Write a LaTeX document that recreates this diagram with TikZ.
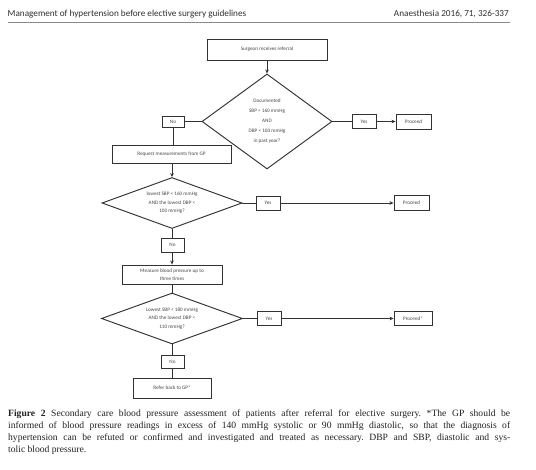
\documentclass[tikz,border=0pt]{standalone}
\usepackage{fontspec}
\setmainfont{Liberation Serif}
\newfontfamily\diagfont{Carlito}
\newfontfamily\hdrfont{Carlito}
\usetikzlibrary{arrows.meta,shapes.geometric}
\definecolor{linec}{HTML}{333333}
\definecolor{txtc}{HTML}{484848}
\definecolor{hdrc}{HTML}{303030}
\definecolor{rulec}{HTML}{8A8A8A}
\definecolor{capc}{HTML}{222222}
\begin{document}
\begin{tikzpicture}[x=1pt,y=-1pt,
  flowbox/.style={draw=linec, line width=0.95pt, fill=white, inner sep=1pt,
    font=\diagfont\fontsize{5.2}{8.5}\selectfont, text=txtc, align=center},
  decision/.style={diamond, draw=linec, line width=0.95pt, inner sep=0pt},
  dtext/.style={inner sep=0pt, font=\diagfont\fontsize{5.2}{8.5}\selectfont, text=txtc, align=center},
  conn/.style={draw=linec, line width=0.95pt},
  arr/.style={conn, -{Stealth[length=4pt,width=3.6pt]}}
]
\fill[white] (0,0) rectangle (536,470);
\useasboundingbox (0,0) rectangle (536,470);

% header
\node[anchor=base west, inner sep=0pt, text=hdrc, font=\hdrfont\fontsize{9.2}{11}\selectfont] (hl) at (7.5,16.5)
  {Management of hypertension before elective surgery guidelines};
\node[anchor=base east, inner sep=0pt, text=hdrc, font=\hdrfont\fontsize{9.2}{11}\selectfont] (hr) at (509,16.5)
  {Anaesthesia 2016, 71, 326-337};
\draw[rulec, line width=1.4pt] (7.5,22.5) -- (510,22.5);

% flowchart nodes
\node[flowbox, minimum width=120, minimum height=21] (surg) at (267,49.5) {Surgeon receives referral};
\node[decision, minimum width=130, minimum height=95] (d1) at (267,121.5) {};
\node[dtext, font=\diagfont\fontsize{5.2}{10}\selectfont] (d1t) at (d1.center)
  {Documented\\SBP < 160 mmHg\\AND\\DBP < 100 mmHg\\in past year?};
\node[flowbox, minimum width=22, minimum height=11] (no1) at (173,121.5) {No};
\node[flowbox, minimum width=24, minimum height=14] (yes1) at (364,121.5) {Yes};
\node[flowbox, minimum width=35, minimum height=15] (pro1) at (413.5,121.5) {Proceed};

\node[flowbox, minimum width=119, minimum height=18] (req) at (171.5,154) {Request measurements from GP};
\node[decision, minimum width=140, minimum height=51] (d2) at (172,203) {};
\node[dtext] (d2t) at (d2.center) {lowest SBP < 160 mmHg\\AND the lowest DBP <\\100 mmHg?};
\node[flowbox, minimum width=24, minimum height=14] (yes2) at (268,203) {Yes};
\node[flowbox, minimum width=35, minimum height=15] (pro2) at (411.5,203) {Proceed};
\node[flowbox, minimum width=23, minimum height=14] (no2) at (172.5,245) {No};

\node[flowbox, minimum width=100, minimum height=19] (meas) at (172,274.5) {Measure blood pressure up to\\three times};
\node[decision, minimum width=141, minimum height=51] (d3) at (172,318.5) {};
\node[dtext] (d3t) at (d3.center) {Lowest SBP < 180 mmHg\\AND the lowest DBP <\\110 mmHg?};
\node[flowbox, minimum width=24, minimum height=14] (yes3) at (269,318.5) {Yes};
\node[flowbox, minimum width=38, minimum height=14] (pro3) at (413,318.5) {Proceed*};
\node[flowbox, minimum width=23, minimum height=13] (no3) at (172.5,361.5) {No};
\node[flowbox, minimum width=78, minimum height=20] (refer) at (172,388) {Refer back to GP*};

% connectors
\draw[arr] (surg.south) -- (d1.north);
\draw[conn] (d1.west) -- (no1.east);
\draw[conn] (no1.south) -- (no1.south |- req.north);
\draw[conn] (d1.east) -- (yes1.west);
\draw[arr] (yes1.east) -- (pro1.west);

\draw[arr] (d2.north |- req.south) -- (d2.north);
\draw[conn] (d2.east) -- (yes2.west);
\draw[arr] (yes2.east) -- (pro2.west);
\draw[conn] (d2.south) -- (d2.south |- no2.north);
\draw[arr] (d2.south |- no2.south) -- (d2.south |- meas.north);

\draw[conn] (meas.south) -- (d3.north);
\draw[conn] (d3.east) -- (yes3.west);
\draw[arr] (yes3.east) -- (pro3.west);
\draw[conn] (d3.south) -- (d3.south |- no3.north);
\draw[conn] (d3.south |- no3.south) -- (d3.south |- refer.north);

% caption
\node[anchor=north west, inner sep=0pt, text width=502pt, text=capc,
  font=\frenchspacing\fontsize{9.6}{12}\selectfont, align=justify] (cap) at (8,409.5)
  {\textbf{Figure 2} Secondary care blood pressure assessment of patients after referral for elective surgery. *The GP should be\linebreak
  informed of blood pressure readings in excess of 140 mmHg systolic or 90 mmHg diastolic, so that the diagnosis of\linebreak
  hypertension can be refuted or confirmed and investigated and treated as necessary. DBP and SBP, diastolic and sys-\linebreak
  tolic blood pressure.};
\end{tikzpicture}
\end{document}
